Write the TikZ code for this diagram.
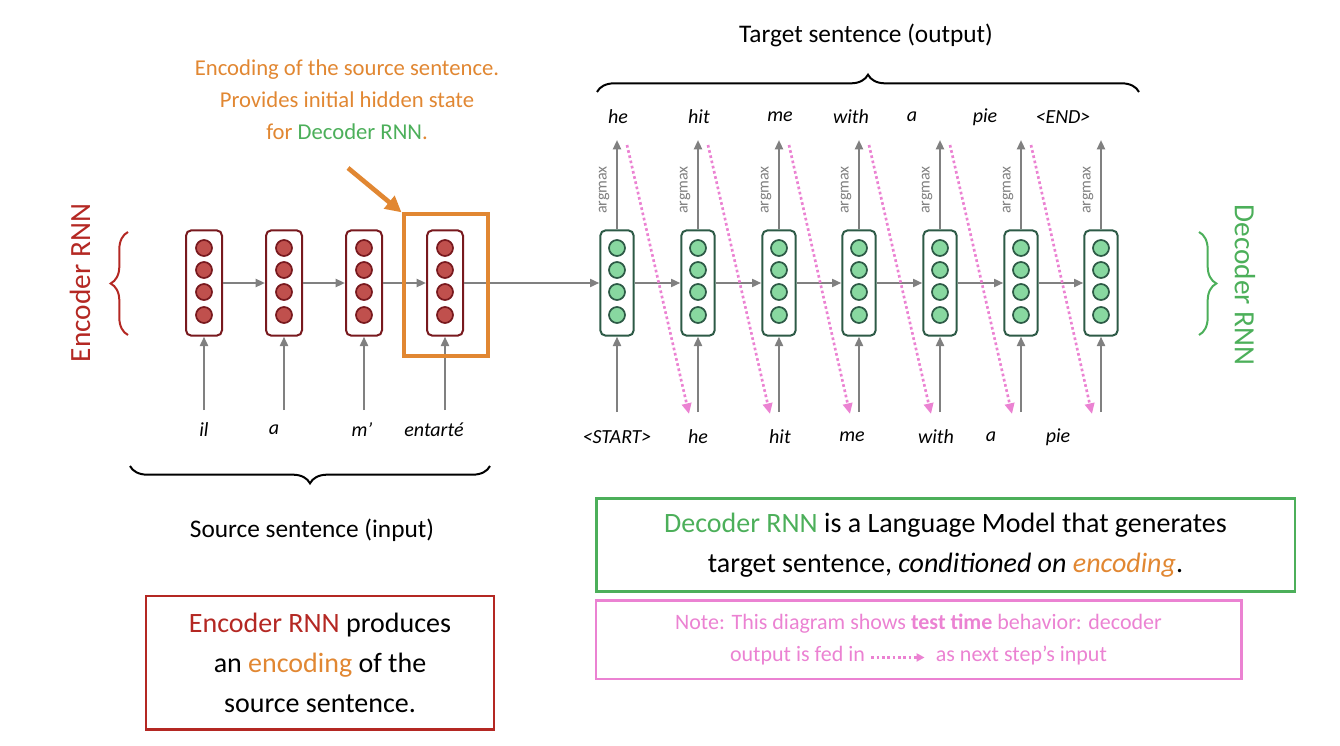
\documentclass[tikz,border=0pt]{standalone}
\usepackage{fontspec}
\setmainfont{Carlito}
\usetikzlibrary{arrows.meta,decorations.pathreplacing,calc}
\definecolor{edark}{RGB}{120,25,30}
\definecolor{efill}{RGB}{192,80,77}
\definecolor{etxt}{RGB}{180,40,35}
\definecolor{gdark}{RGB}{45,90,70}
\definecolor{gfill}{RGB}{136,216,160}
\definecolor{gtxt}{RGB}{76,175,90}
\definecolor{otxt}{RGB}{225,135,50}
\definecolor{pnk}{RGB}{235,130,210}
\definecolor{gry}{RGB}{128,128,128}
\begin{document}
\begin{tikzpicture}[x=0.75pt,y=-0.75pt,
  ar/.style={-{Triangle[length=7pt,width=6pt]},gry,line width=1.6pt},
  encbox/.style={draw=edark,line width=1.5pt,rounded corners=4pt,minimum width=27pt,minimum height=79pt,inner sep=0pt},
  decbox/.style={draw=gdark,line width=1.5pt,rounded corners=4pt,minimum width=25pt,minimum height=79pt,inner sep=0pt},
  ec/.style={circle,draw=edark,fill=efill,line width=1.3pt,minimum size=12pt,inner sep=0pt},
  dc/.style={circle,draw=gdark,fill=gfill,line width=1.3pt,minimum size=12pt,inner sep=0pt},
  wd/.style={font=\fontsize{15}{18}\selectfont\itshape,inner sep=0pt},
  am/.style={font=\fontsize{12}{14}\selectfont,text=gry,rotate=90,inner sep=0pt},
  pk/.style={pnk,line width=2pt,dash pattern=on 2pt off 2pt,-{Triangle[length=8pt,width=7pt]}},
  big/.style={font=\fontsize{21}{30}\selectfont,align=center},
  brc/.style={decorate,decoration={brace,amplitude=13pt},line width=1.5pt}]
\useasboundingbox (0,0) rectangle (1340,746);
% encoder
\foreach \x [count=\i] in {204,284,364,445}{
  \node[encbox] (e\i) at (\x,283) {};
  \foreach \y [count=\j] in {248,270,292,315} \node[ec] (e\i c\j) at (\x,\y) {};
  \coordinate (ein\i) at (\x,410);
  \draw[ar] (ein\i) -- (e\i.south);
}
\foreach \x/\t/\n in {204/il/1,274/a/2,362/m’/3,434/entarté/4} \node[wd] (ew\n) at (\x,430) {\t};
\draw[ar] (e1) -- (e2); \draw[ar] (e2) -- (e3); \draw[ar] (e3) -- (e4);
% decoder
\foreach \x [count=\i] in {617,698,779,859,940,1021,1101}{
  \node[decbox] (d\i) at (\x,283) {};
  \foreach \y [count=\j] in {248,270,292,315} \node[dc] (d\i c\j) at (\x,\y) {};
  \coordinate (din\i) at (\x,412);
  \coordinate (dout\i) at (\x,140);
  \draw[ar] (din\i) -- (d\i.south);
  \draw[ar] (d\i.north) -- (dout\i);
  \node[am] (am\i) at (\x-13,190) {argmax};
}
\draw[ar] (e4) -- (d1);
\foreach \i/\j in {1/2,2/3,3/4,4/5,5/6,6/7} \draw[ar] (d\i) -- (d\j);
% pink feedback arrows
\foreach \i/\j in {1/2,2/3,3/4,4/5,5/6,6/7}{
  \coordinate (ps\i) at ($(dout\i)+(10,5)$);
  \coordinate (pe\i) at ($(din\j)+(-9,2)$);
  \draw[pk] (ps\i) -- (pe\i);
}
% decoder words
\foreach \x/\t [count=\n] in {618/he,699/hit,780/me,851/with,912/a,985/pie,1063/<END>} \node[wd] (tw\n) at (\x,117) {\t};
\foreach \x/\t [count=\n] in {617/<START>,698/he,780/hit,852/me,936/with,991/a,1058/pie} \node[wd] (iw\n) at (\x,437) {\t};
% orange highlight
\node[draw=otxt,line width=3pt,minimum width=63pt,minimum height=106pt,inner sep=0pt] (ob) at (445.5,285) {};
\coordinate (oa) at (348,168);
\draw[otxt,line width=3.5pt,-{Triangle[length=12pt,width=12pt]}] (oa) -- (ob.north west);
\node[font=\fontsize{17}{24}\selectfont,text=otxt,align=center] (otx) at (347,100)
 {Encoding of the source sentence.\\Provides initial hidden state\\for \textcolor{gtxt}{Decoder RNN}.};
% braces
\coordinate (eb1) at (128,335); \coordinate (eb2) at (128,232);
\draw[brc,etxt] (eb1) -- (eb2);
\node[font=\fontsize{22}{26}\selectfont,text=etxt,rotate=90] (elab) at (80,283) {Encoder RNN};
\coordinate (db1) at (1199,232); \coordinate (db2) at (1199,335);
\draw[brc,gtxt] (db1) -- (db2);
\node[font=\fontsize{22}{26}\selectfont,text=gtxt,rotate=-90] (dlab) at (1245,285) {Decoder RNN};
\coordinate (sb1) at (490,466); \coordinate (sb2) at (130,466);
\draw[brc] (sb1) -- (sb2);
\node[font=\fontsize{19}{24}\selectfont] (slab) at (312,530) {Source sentence (input)};
\coordinate (tb1) at (597,92); \coordinate (tb2) at (1139,92);
\draw[brc] (tb1) -- (tb2);
\node[font=\fontsize{19}{24}\selectfont] (tlab) at (866,35) {Target sentence (output)};
% boxes
\node[draw=gtxt,line width=2pt,minimum width=524pt,minimum height=70pt,big] (gb) at (945.5,545)
 {\textcolor{gtxt}{Decoder RNN} is a Language Model that generates\\target sentence, \textit{conditioned on \textcolor{otxt}{encoding}}.};
\node[draw=pnk,line width=2pt,minimum width=484pt,minimum height=59pt,font=\fontsize{16.5}{24}\selectfont,text=pnk,align=center] (pb) at (918.5,639.5)
 {Note: This diagram shows \textbf{test time} behavior: decoder\\output is fed in \tikz[baseline=-3pt]\draw[pnk,line width=2pt,dash pattern=on 2pt off 2pt,-{Triangle[length=6pt,width=6pt]}] (0,0)--(40pt,0);\ \ as next step’s input};
\node[draw=etxt,line width=2pt,minimum width=261pt,minimum height=100pt,big] (rb) at (320,662.5)
 {\textcolor{etxt}{Encoder RNN} produces\\an \textcolor{otxt}{encoding} of the\\source sentence.};
\end{tikzpicture}
\end{document}
